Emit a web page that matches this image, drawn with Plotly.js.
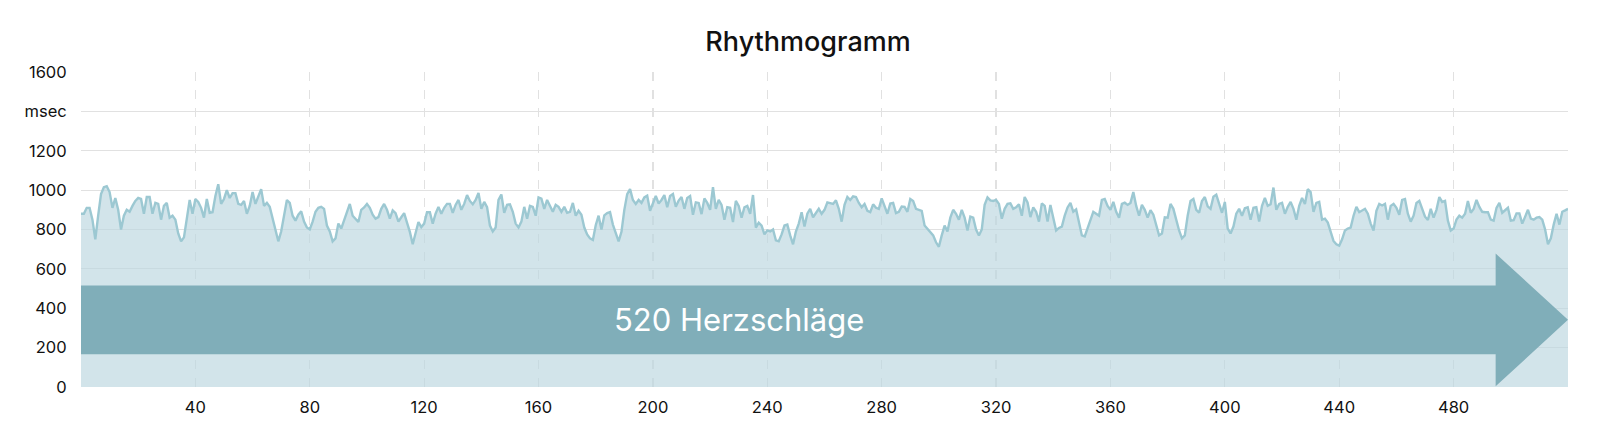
<!DOCTYPE html>
<html>
<head>
<meta charset="utf-8">
<script src="https://cdn.plot.ly/plotly-3.0.1.min.js"></script>
<style>
html,body{margin:0;padding:0;background:#fff;}
#chart{width:1600px;height:440px;}
</style>
</head>
<body>
<div id="chart"></div>
<script>
// RR intervals (msec) per heart beat
const rrMsec = [
880,880,910,910,850,750,870,980,1015,1020,990,910,960,900,800,870,900,890,920,945,960,955,880,965,965,880,935,930,850,920,935,860,870,850,780,740,760,850,950,880,955,940,910,
860,955,885,888,970,1030,930,955,1000,960,985,985,930,925,945,880,920,990,930,965,1005,920,935,915,860,800,740,790,880,950,935,870,845,875,892,840,810,800,840,890,910,915,905,
820,790,740,755,830,805,850,888,930,870,855,838,900,912,930,910,875,855,863,905,930,900,855,897,883,840,862,883,835,788,725,780,838,812,830,888,888,830,880,915,880,910,
930,930,885,925,950,900,930,975,945,928,950,985,905,940,913,820,790,810,950,978,885,925,928,890,830,810,840,915,855,920,915,870,963,957,905,950,920,890,925,915,890,915,885,
890,935,870,895,875,810,775,755,747,822,870,800,872,883,888,825,780,740,788,900,980,1005,950,930,950,935,963,972,895,938,970,932,950,975,913,970,980,915,947,965,905,960,
970,875,938,935,878,958,935,900,1015,905,950,925,850,913,910,838,945,920,860,913,920,880,975,810,835,820,775,795,790,800,745,740,775,820,825,770,725,790,830,888,815,880,905,
862,883,905,880,900,938,935,930,948,905,840,925,965,950,968,965,935,913,930,895,888,928,910,905,958,915,880,932,935,883,890,917,915,890,955,945,905,900,895,820,805,785,770,735,712,770,820,790,860,900,880,850,900,860,795,865,860,800,770,800,925,963,948,945,950,930,
855,905,930,933,905,913,928,870,965,938,863,912,890,840,933,920,840,925,860,795,808,815,870,912,935,890,902,830,770,765,805,845,890,880,870,950,955,920,900,940,890,860,930,936,925,935,990,920,870,925,900,860,898,875,825,770,780,862,860,930,905,847,795,755,
770,870,945,955,900,885,945,965,918,905,967,977,925,885,940,805,780,815,880,905,870,908,913,850,910,913,840,920,960,920,928,1013,900,930,935,880,915,940,905,850,920,960,930,1005,990,890,935,940,850,855,835,788,742,725,718,750,795,805,810,870,915,888,895,905,880,830,795,
895,930,922,930,850,920,930,910,875,950,955,880,840,870,935,945,905,865,848,905,860,900,965,940,945,845,795,805,850,870,860,880,945,885,905,950,915,890,888,888,850,845,910,935,885,900,910,845,847,882,882,830,870,900,855,850,860,863,850,800,725,755,825,880,825,890,897,905
];
const beatIndex = rrMsec.map((v, i) => i);

const xTickVals = [0,40,80,120,160,200,240,280,320,360,400,440,480,520];
const xTickText = ['','40','80','120','160','200','240','280','320','360','400','440','480',''];
const yTickVals = [0,200,400,600,800,1000,1200,1400,1600];
const yTickText = ['0','200','400','600','800','1000','1200','msec','1600'];

const titleText = 'Rhythmogramm';
const arrowLabel = '520 Herzschläge';

const FONT = 'Inter, "Noto Sans", "DejaVu Sans", sans-serif';

const trace = {
  x: beatIndex,
  y: rrMsec,
  type: 'scatter',
  mode: 'lines',
  line: {color: '#9cc8d2', width: 2.4},
  fill: 'tozeroy',
  fillcolor: 'rgba(186,214,223,0.66)',
  hoverinfo: 'skip'
};

const layout = {
  width: 1600,
  height: 440,
  margin: {l: 81, r: 32, t: 72, b: 53},
  paper_bgcolor: '#ffffff',
  plot_bgcolor: '#ffffff',
  showlegend: false,
  font: {family: FONT, color: '#111111', size: 16},
  title: {
    text: titleText,
    x: 0.505, xref: 'container', xanchor: 'center',
    y: 0.905, yref: 'container', yanchor: 'middle',
    font: {family: FONT, size: 27, color: '#111111', weight: 500}
  },
  xaxis: {
    range: [0, 520],
    tickmode: 'array',
    tickvals: xTickVals,
    ticktext: xTickText,
    showgrid: true,
    gridcolor: '#e1e1e1',
    gridwidth: 1.2,
    griddash: 'dash',
    zeroline: false,
    showline: false,
    ticks: 'outside',
    ticklen: 5,
    tickcolor: 'rgba(0,0,0,0)',
    tickfont: {family: FONT, size: 16.5, color: '#111111'},
    fixedrange: true
  },
  yaxis: {
    range: [0, 1600],
    tickmode: 'array',
    tickvals: yTickVals,
    ticktext: yTickText,
    showgrid: true,
    gridcolor: '#e1e1e1',
    gridwidth: 1.2,
    zeroline: false,
    showline: false,
    ticks: 'outside',
    ticklen: 10,
    tickcolor: 'rgba(0,0,0,0)',
    tickfont: {family: FONT, size: 16.5, color: '#111111'},
    fixedrange: true
  },
  shapes: [
    {
      type: 'path',
      xref: 'x', yref: 'y',
      path: 'M 0,166 L 494.7,166 L 494.7,4 L 520,341 L 494.7,678 L 494.7,515 L 0,515 Z',
      fillcolor: '#80aeb9',
      line: {width: 0},
      layer: 'above'
    }
  ],
  annotations: [
    {
      text: arrowLabel,
      x: 230, y: 341,
      xref: 'x', yref: 'y',
      xanchor: 'center', yanchor: 'middle',
      showarrow: false,
      font: {family: FONT, size: 31, color: '#ffffff'}
    }
  ]
};

Plotly.newPlot('chart', [trace], layout, {displayModeBar: false, staticPlot: true});
</script>
</body>
</html>
